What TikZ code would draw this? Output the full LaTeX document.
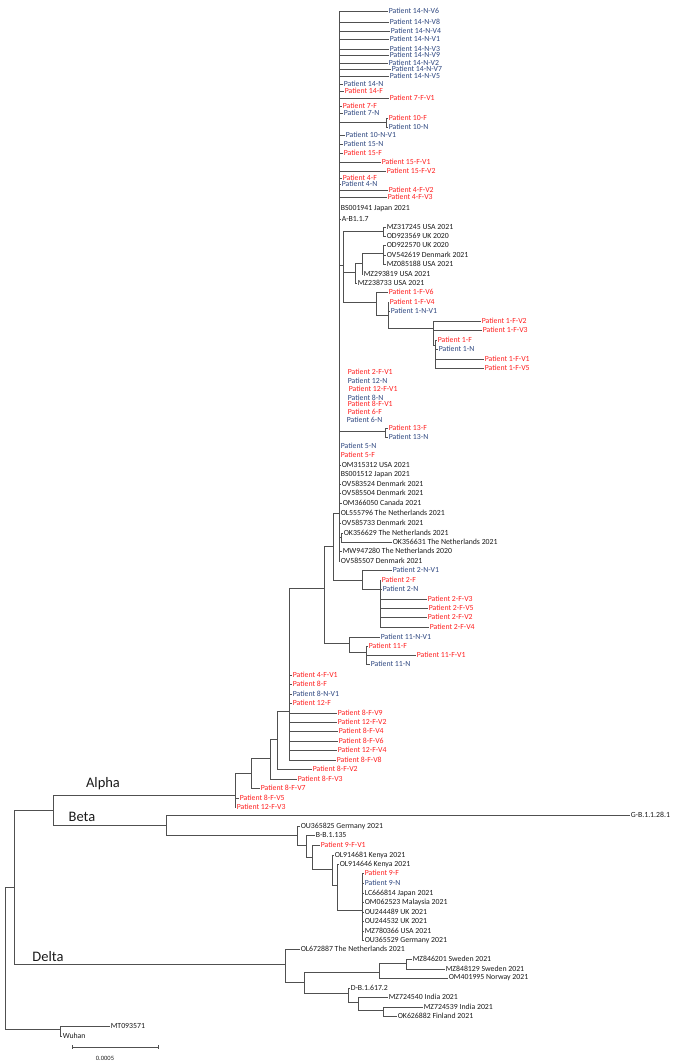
\documentclass[tikz,border=0pt]{standalone}
\usepackage{fontspec}
\setmainfont{Carlito}
\definecolor{pred}{HTML}{FF1F1F}
\definecolor{pblue}{HTML}{2E4780}
\definecolor{ink}{HTML}{1A1A1A}
\definecolor{edge}{HTML}{505050}
\begin{document}
\begin{tikzpicture}[x=1pt,y=-1pt,
  lf/.style={anchor=west,inner sep=0pt,outer sep=0.8pt,font=\fontsize{7.8}{8.5}\selectfont,text=ink},
  rd/.style={lf,text=pred},
  bl/.style={lf,text=pblue},
  clade/.style={font=\fontsize{14.5}{16}\selectfont,text=ink,inner sep=0pt},
  br/.style={draw=edge,line width=0.75pt}]
\useasboundingbox (0,0) rectangle (686,1063);

% ---------- backbone P ----------
\coordinate (P) at (339,513);
\node[bl] (p14nv6) at (388,11) {Patient 14-N-V6};
\node[bl] (p14nv8) at (389,22) {Patient 14-N-V8};
\node[bl] (p14nv4) at (390,31) {Patient 14-N-V4};
\node[bl] (p14nv1) at (389,39) {Patient 14-N-V1};
\node[bl] (p14nv3) at (389,49) {Patient 14-N-V3};
\node[bl] (p14nv9) at (389,55) {Patient 14-N-V9};
\node[bl] (p14nv2) at (388,63) {Patient 14-N-V2};
\node[bl] (p14nv7) at (391,69) {Patient 14-N-V7};
\node[bl] (p14nv5) at (389,76) {Patient 14-N-V5};
\node[bl] (p14n) at (343,84) {Patient 14-N};
\node[rd] (p14f) at (344,91) {Patient 14-F};
\node[rd] (p7fv1) at (389,98) {Patient 7-F-V1};
\node[rd] (p7f) at (342,106) {Patient 7-F};
\node[bl] (p7n) at (343,113) {Patient 7-N};
\coordinate (N10) at (386,122);
\node[rd] (p10f) at (388,118) {Patient 10-F};
\node[bl] (p10n) at (388,127) {Patient 10-N};
\node[bl] (p10nv1) at (345,135) {Patient 10-N-V1};
\node[bl] (p15n) at (343,144) {Patient 15-N};
\node[rd] (p15f) at (343,153) {Patient 15-F};
\node[rd] (p15fv1) at (381,162) {Patient 15-F-V1};
\node[rd] (p15fv2) at (386,171) {Patient 15-F-V2};
\node[rd] (p4f) at (342,178) {Patient 4-F};
\node[bl] (p4n) at (341,184) {Patient 4-N};
\node[rd] (p4fv2) at (388,190) {Patient 4-F-V2};
\node[rd] (p4fv3) at (387,197) {Patient 4-F-V3};
\node[lf] (bs1941) at (340,209) {BS001941 Japan 2021};
\node[lf] (ab117) at (341,219) {A-B1.1.7};
\coordinate (C) at (343,265);
\node[rd] (p2fv1) at (340,372) {\hspace*{7pt}Patient 2-F-V1};
\node[bl] (p12n) at (340,381) {\hspace*{7pt}Patient 12-N};
\node[rd] (p12fv1) at (340,389) {\hspace*{8pt}Patient 12-F-V1};
\node[bl] (p8n) at (340,398) {\hspace*{7pt}Patient 8-N};
\node[rd] (p8fv1) at (340,404) {\hspace*{7pt}Patient 8-F-V1};
\node[rd] (p6f) at (340,412) {\hspace*{7pt}Patient 6-F};
\node[bl] (p6n) at (340,420) {\hspace*{6pt}Patient 6-N};
\coordinate (N13) at (385,431);
\node[rd] (p13f) at (388,428) {Patient 13-F};
\node[bl] (p13n) at (388,437) {Patient 13-N};
\node[bl] (p5n) at (340,446) {Patient 5-N};
\node[rd] (p5f) at (340,455) {Patient 5-F};
\node[lf] (om315312) at (341,465) {OM315312 USA 2021};
\node[lf] (bs1512) at (340,475) {BS001512 Japan 2021};
\node[lf] (ov583524) at (341,484) {OV583524 Denmark 2021};
\node[lf] (ov585504) at (341,493) {OV585504 Denmark 2021};
\node[lf] (om366050) at (342,503) {OM366050 Canada 2021};
\node[lf] (ol555796) at (340,513) {OL555796 The Netherlands 2021};
\node[lf] (ov585733) at (341,523) {OV585733 Denmark 2021};
\coordinate (N29) at (341,537);
\node[lf] (ok356629) at (343,533) {OK356629 The Netherlands 2021};
\node[lf] (ok356631) at (392,542) {OK356631 The Netherlands 2021};
\node[lf] (mw947280) at (342,551) {MW947280 The Netherlands 2020};
\node[lf] (ov585507) at (340,561) {OV585507 Denmark 2021};

\foreach \c in {p14nv6,p14nv8,p14nv4,p14nv1,p14nv3,p14nv9,p14nv2,p14nv7,p14nv5,p14n,p14f,p7fv1,p7f,p7n,p10nv1,p15n,p15f,p15fv1,p15fv2,p4f,p4n,p4fv2,p4fv3,bs1941,ab117,p2fv1,p12n,p12fv1,p8n,p8fv1,p6f,p6n,p5n,p5f,om315312,bs1512,ov583524,ov585504,om366050,ol555796,ov585733,mw947280,ov585507}
  \draw[br] (P) |- (\c.west);
\foreach \c in {N10,C,N13,N29} \draw[br] (P) |- (\c);
\foreach \c in {p10f,p10n} \draw[br] (N10) |- (\c.west);
\foreach \c in {p13f,p13n} \draw[br] (N13) |- (\c.west);
\foreach \c in {ok356629,ok356631} \draw[br] (N29) |- (\c.west);

% ---------- clade C ----------
\coordinate (NMZ) at (383,231);
\node[lf] (mz317245) at (386,227) {MZ317245 USA 2021};
\node[lf] (od923569) at (386,236) {OD923569 UK 2020};
\coordinate (B) at (355,272);
\coordinate (A) at (362,263);
\coordinate (D) at (383,253);
\node[lf] (od922570) at (386,245) {OD922570 UK 2020};
\node[lf] (ov542619) at (386,255) {OV542619 Denmark 2021};
\node[lf] (mz085188) at (386,264) {MZ085188 USA 2021};
\node[lf] (mz293819) at (363,274) {MZ293819 USA 2021};
\node[lf] (mz238733) at (357,283) {MZ238733 USA 2021};
\coordinate (E) at (376,302);
\node[rd] (p1fv6) at (388,292) {Patient 1-F-V6};
\coordinate (F) at (388,315);
\node[rd] (p1fv4) at (389,302) {Patient 1-F-V4};
\node[bl] (p1nv1) at (390,311) {Patient 1-N-V1};
\coordinate (G) at (433,328);
\node[rd] (p1fv2) at (481,321) {Patient 1-F-V2};
\node[rd] (p1fv3) at (482,330) {Patient 1-F-V3};
\coordinate (H) at (435,345);
\node[rd] (p1f) at (437,340) {Patient 1-F};
\node[bl] (p1n) at (438,349) {Patient 1-N};
\node[rd] (p1fv1) at (484,359) {Patient 1-F-V1};
\node[rd] (p1fv5) at (484,368) {Patient 1-F-V5};

\foreach \c in {NMZ,B,E} \draw[br] (C) |- (\c);
\foreach \c in {mz317245,od923569} \draw[br] (NMZ) |- (\c.west);
\draw[br] (B) |- (A);
\draw[br] (B) |- (mz238733.west);
\draw[br] (A) |- (D);
\draw[br] (A) |- (mz293819.west);
\foreach \c in {od922570,ov542619,mz085188} \draw[br] (D) |- (\c.west);
\draw[br] (E) |- (p1fv6.west);
\draw[br] (E) |- (F);
\foreach \c in {p1fv4,p1nv1} \draw[br] (F) |- (\c.west);
\draw[br] (F) |- (G);
\foreach \c in {p1fv2,p1fv3} \draw[br] (G) |- (\c.west);
\draw[br] (G) |- (H);
\foreach \c in {p1f,p1n,p1fv1,p1fv5} \draw[br] (H) |- (\c.west);

% ---------- Q, R, patient 2 and 11 ----------
\coordinate (Q) at (333,546);
\coordinate (R) at (324,588);
\coordinate (S0) at (362,580);
\coordinate (S1) at (380,589);
\node[bl] (p2nv1) at (392,570) {Patient 2-N-V1};
\node[rd] (p2f) at (381,580) {Patient 2-F};
\node[bl] (p2n) at (382,589) {Patient 2-N};
\node[rd] (p2fv3) at (427,599) {Patient 2-F-V3};
\node[rd] (p2fv5) at (428,608) {Patient 2-F-V5};
\node[rd] (p2fv2) at (427,617) {Patient 2-F-V2};
\node[rd] (p2fv4) at (429,627) {Patient 2-F-V4};
\coordinate (T) at (349,643);
\coordinate (U) at (366,652);
\node[bl] (p11nv1) at (380,637) {Patient 11-N-V1};
\node[rd] (p11f) at (368,646) {Patient 11-F};
\node[rd] (p11fv1) at (416,655) {Patient 11-F-V1};
\node[bl] (p11n) at (370,664) {Patient 11-N};

\draw[br] (Q) |- (P);
\draw[br] (Q) |- (S0);
\draw[br] (R) |- (Q);
\draw[br] (R) |- (T);
\draw[br] (S0) |- (p2nv1.west);
\draw[br] (S0) |- (S1);
\foreach \c in {p2f,p2n,p2fv3,p2fv5,p2fv2,p2fv4} \draw[br] (S1) |- (\c.west);
\draw[br] (T) |- (p11nv1.west);
\draw[br] (T) |- (U);
\foreach \c in {p11f,p11fv1,p11n} \draw[br] (U) |- (\c.west);

% ---------- Alpha: patient 8 clade ----------
\coordinate (V) at (289,711);
\coordinate (W) at (277,739);
\coordinate (X) at (270,758);
\coordinate (Y) at (251,773);
\coordinate (Z) at (235,795);
\node[rd] (p4fv1) at (292,675) {Patient 4-F-V1};
\node[rd] (p8f) at (292,684) {Patient 8-F};
\node[bl] (p8nv1) at (292,694) {Patient 8-N-V1};
\node[rd] (p12f) at (292,703) {Patient 12-F};
\node[rd] (p8fv9) at (337,713) {Patient 8-F-V9};
\node[rd] (p12fv2) at (337,722) {Patient 12-F-V2};
\node[rd] (p8fv4) at (338,731) {Patient 8-F-V4};
\node[rd] (p8fv6) at (338,741) {Patient 8-F-V6};
\node[rd] (p12fv4) at (337,750) {Patient 12-F-V4};
\node[rd] (p8fv8) at (336,760) {Patient 8-F-V8};
\node[rd] (p8fv2) at (312,769) {Patient 8-F-V2};
\node[rd] (p8fv3) at (297,779) {Patient 8-F-V3};
\node[rd] (p8fv7) at (260,788) {Patient 8-F-V7};
\node[rd] (p8fv5) at (239,798) {Patient 8-F-V5};
\node[rd] (p12fv3) at (236,807) {Patient 12-F-V3};

\draw[br] (V) |- (R);
\foreach \c in {p4fv1,p8f,p8nv1,p12f,p8fv9,p12fv2,p8fv4,p8fv6,p12fv4,p8fv8} \draw[br] (V) |- (\c.west);
\draw[br] (W) |- (V);
\draw[br] (W) |- (p8fv2.west);
\draw[br] (X) |- (W);
\draw[br] (X) |- (p8fv3.west);
\draw[br] (Y) |- (X);
\draw[br] (Y) |- (p8fv7.west);
\draw[br] (Z) |- (Y);
\foreach \c in {p8fv5,p12fv3} \draw[br] (Z) |- (\c.west);

% ---------- Beta ----------
\coordinate (AB) at (53,810);
\coordinate (B0) at (166,825);
\coordinate (B1) at (297,835);
\coordinate (B2) at (306,845);
\coordinate (B3) at (312,857);
\coordinate (B4) at (332,869);
\coordinate (B5) at (337,885);
\coordinate (B6) at (362,910);
\node[lf] (gb) at (630,815) {G-B.1.1.28.1};
\node[lf] (ou365825) at (300,826) {OU365825 Germany 2021};
\node[lf] (bb135) at (315,835) {B-B.1.135};
\node[rd] (p9fv1) at (320,845) {Patient 9-F-V1};
\node[lf] (ol914681) at (334,855) {OL914681 Kenya 2021};
\node[lf] (ol914646) at (339,864) {OL914646 Kenya 2021};
\node[rd] (p9f) at (364,873) {Patient 9-F};
\node[bl] (p9n) at (364,883) {Patient 9-N};
\node[lf] (lc666814) at (364,893) {LC666814 Japan 2021};
\node[lf] (om062523) at (364,902) {OM062523 Malaysia 2021};
\node[lf] (ou244489) at (364,912) {OU244489 UK 2021};
\node[lf] (ou244532) at (364,921) {OU244532 UK 2021};
\node[lf] (mz780366) at (364,931) {MZ780366 USA 2021};
\node[lf] (ou365529) at (364,940) {OU365529 Germany 2021};

\draw[br] (AB) |- (Z);
\draw[br] (AB) |- (B0);
\draw[br] (B0) |- (gb.west);
\draw[br] (B0) |- (B1);
\draw[br] (B1) |- (ou365825.west);
\draw[br] (B1) |- (B2);
\draw[br] (B2) |- (bb135.west);
\draw[br] (B2) |- (B3);
\draw[br] (B3) |- (p9fv1.west);
\draw[br] (B3) |- (B4);
\draw[br] (B4) |- (ol914681.west);
\draw[br] (B4) |- (B5);
\draw[br] (B5) |- (ol914646.west);
\draw[br] (B5) |- (B6);
\foreach \c in {p9f,p9n,lc666814,om062523,ou244489,ou244532,mz780366,ou365529} \draw[br] (B6) |- (\c.west);

% ---------- Delta ----------
\coordinate (N14) at (14,887);
\coordinate (DL) at (285,964);
\coordinate (D1) at (304,982);
\coordinate (D2) at (379,972);
\coordinate (D3) at (406,963);
\coordinate (D5) at (348,993);
\coordinate (D6) at (358,1002);
\coordinate (D7) at (383,1010);
\node[lf] (ol672887) at (300,949) {OL672887 The Netherlands 2021};
\node[lf] (mz846201) at (412,959) {MZ846201 Sweden 2021};
\node[lf] (mz848129) at (445,969) {MZ848129 Sweden 2021};
\node[lf] (om401995) at (448,978) {OM401995 Norway 2021};
\node[lf] (db16172) at (350,988) {D-B.1.617.2};
\node[lf] (mz724540) at (388,997) {MZ724540 India 2021};
\node[lf] (mz724539) at (423,1007) {MZ724539 India 2021};
\node[lf] (ok626882) at (397,1016) {OK626882 Finland 2021};

\draw[br] (N14) |- (AB);
\draw[br] (N14) |- (DL);
\draw[br] (DL) |- (ol672887.west);
\draw[br] (DL) |- (D1);
\draw[br] (D1) |- (D2);
\draw[br] (D1) |- (D5);
\draw[br] (D2) |- (D3);
\draw[br] (D2) |- (om401995.west);
\foreach \c in {mz846201,mz848129} \draw[br] (D3) |- (\c.west);
\draw[br] (D5) |- (db16172.west);
\draw[br] (D5) |- (D6);
\draw[br] (D6) |- (mz724540.west);
\draw[br] (D6) |- (D7);
\foreach \c in {mz724539,ok626882} \draw[br] (D7) |- (\c.west);

% ---------- root / Wuhan ----------
\coordinate (root) at (5,958);
\coordinate (W0) at (60,1029);
\node[lf] (mt093571) at (110,1026) {MT093571};
\node[lf] (wuhan) at (62,1036) {Wuhan};
\draw[br] (root) |- (N14);
\draw[br] (root) |- (W0);
\draw[br] (W0) |- (mt093571.west);
\draw[br] (W0) |- (wuhan.west);

% ---------- clade labels ----------
\node[clade] (alpha) at (103,784) {Alpha};
\node[clade] (beta) at (82,817) {Beta};
\node[clade] (delta) at (48,957) {Delta};

% ---------- scale bar ----------
\coordinate (s1) at (72,1047);
\coordinate (s2) at (158,1047);
\draw[br,line width=0.6pt] (s1) -- (s2);
\draw[br,line width=0.6pt] ([yshift=1.8pt]s1) -- ([yshift=-1.8pt]s1);
\draw[br,line width=0.6pt] ([yshift=1.8pt]s2) -- ([yshift=-1.8pt]s2);
\node[inner sep=0pt,font=\fontsize{6.5}{7}\selectfont,text=ink] (sl) at (105,1058) {0.0005};
\end{tikzpicture}
\end{document}
